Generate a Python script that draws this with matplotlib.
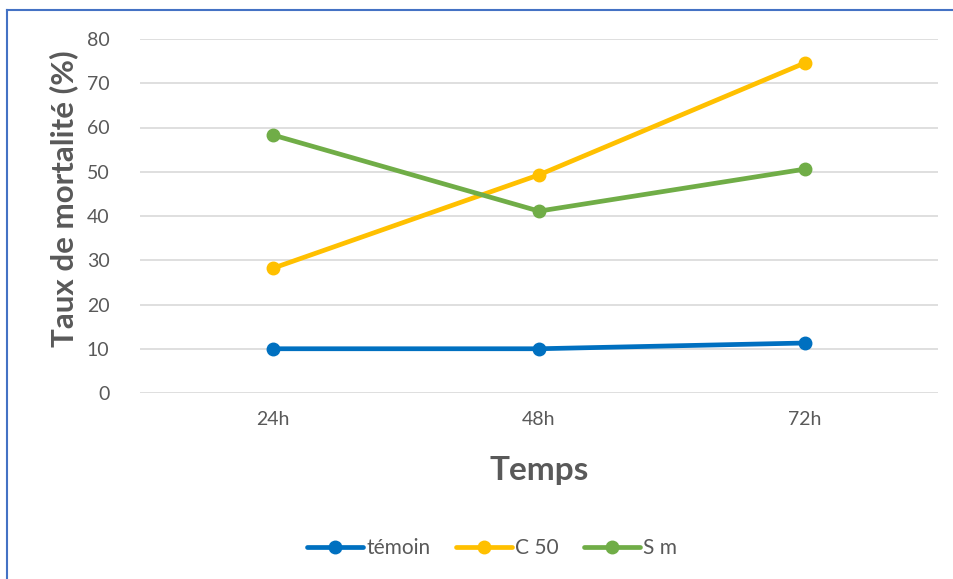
import matplotlib.pyplot as plt
from matplotlib.lines import Line2D

plt.rcParams['font.family'] = ['Lato', 'DejaVu Sans']

# Mortality rate (%) over time for each treatment
temps = ["24h", "48h", "72h"]
temoin = [10.0, 10.0, 11.3]
c50 = [28.2, 49.3, 74.6]
sm = [58.3, 41.1, 50.6]

series = [
    ("témoin", temoin, "#0070C0"),
    ("C 50", c50, "#FFC000"),
    ("S m", sm, "#70AD47"),
]

text_color = "#595959"

fig = plt.figure(figsize=(9.54, 5.79), dpi=100)
ax = fig.add_axes([140 / 954, 1 - 393 / 579, 798 / 954, 354 / 579])

x = list(range(len(temps)))
for name, values, color in series:
    ax.plot(x, values, color=color, linewidth=3.4, marker="o", markersize=9,
            solid_capstyle="round", label=name)

ax.set_xlim(-0.5, len(temps) - 0.5)
ax.set_ylim(0, 80)
ax.set_yticks(range(0, 81, 10))
ax.set_xticks(x)
ax.set_xticklabels(temps)
ax.grid(axis="y", color="#D9D9D9", linewidth=1.2)
ax.set_axisbelow(True)
for side in ax.spines.values():
    side.set_visible(False)
ax.tick_params(axis="both", length=0, labelsize=14, colors=text_color)
ax.tick_params(axis="y", pad=22)
ax.tick_params(axis="x", pad=13)

ax.set_ylabel("Taux de mortalité (%)", fontsize=22.5, fontweight="bold",
              color=text_color)
ax.yaxis.set_label_coords(-0.078, 0.55)
ax.set_xlabel("Temps", fontsize=24, fontweight="bold", color=text_color,
              labelpad=20)

handles = [Line2D([], [], color=c, linewidth=3.4, marker="o", markersize=9,
                  solid_capstyle="round") for _, _, c in series]
leg = fig.legend(handles, [s[0] for s in series], loc="center",
                 bbox_to_anchor=(492 / 954, 1 - 548 / 579), ncol=3,
                 frameon=False, fontsize=15, handlelength=2.7,
                 handletextpad=0.15, columnspacing=1.2)
for t in leg.get_texts():
    t.set_color(text_color)

# Chart border (top and left edges visible)
fig.add_artist(Line2D([7 / 954, 7 / 954], [0, 1 - 10 / 579],
                      transform=fig.transFigure, color="#4472C4", linewidth=1.5))
fig.add_artist(Line2D([7 / 954, 1], [1 - 10 / 579, 1 - 10 / 579],
                      transform=fig.transFigure, color="#4472C4", linewidth=1.5))

fig.savefig("out.png", dpi=100)
